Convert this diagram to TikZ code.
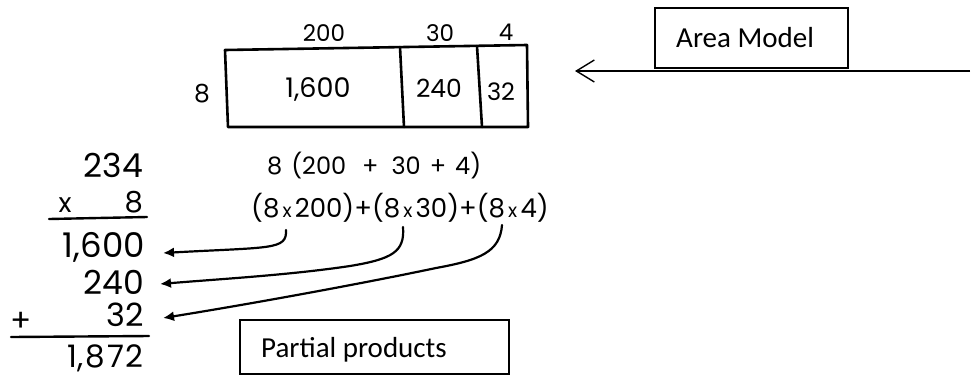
\documentclass[tikz,border=0pt]{standalone}
\usepackage{fontspec}
\setmainfont{Poppins}
\newfontfamily\handfont{Poppins}
\newfontfamily\calibfont{Carlito}
\usetikzlibrary{arrows.meta}
\newcommand{\smx}{{\fontsize{19}{19}\selectfont\,x\,}}
\tikzset{
  hand/.style={inner sep=0pt, font=\handfont\fontsize{#1}{#1}\selectfont},
  hand/.default=26,
  inkline/.style={line width=2.6pt, line cap=round, line join=round},
  inkarrow/.style={line width=2.2pt, line cap=round, -{Latex[length=11pt,width=10pt]}},
  calib/.style={font=\calibfont\fontsize{29}{29}\selectfont, inner sep=0pt},
}
\begin{document}
\begin{tikzpicture}[x=1pt,y=-1pt]
\useasboundingbox (0,0) rectangle (973,381);
% ---- area model rectangle ----
\coordinate (tl) at (225,50);
\coordinate (tr) at (527,45);
\coordinate (br) at (528,127);
\coordinate (bl) at (228,127);
\draw[inkline] (tl) -- (tr) -- (br) -- (bl) -- cycle;
\coordinate (d1t) at (400,47);
\coordinate (d1b) at (404,127);
\coordinate (d2t) at (477,46);
\coordinate (d2b) at (482,127);
\draw[inkline] (d1t) -- (d1b);
\draw[inkline] (d2t) -- (d2b);
\node[hand=23] (h200) at (324,33) {200};
\node[hand=23] (h30) at (440,33) {30};
\node[hand=23] (h4) at (506,32) {4};
\node[hand=25] (h8) at (202,94) {8};
\node[hand=27] (a1600) at (318,89) {1,600};
\node[hand=25] (a240) at (439,88) {240};
\node[hand=24] (a32) at (501,92) {32};
% ---- Area Model label ----
\node[draw, line width=1.6pt, minimum width=193pt, minimum height=60pt, inner sep=0pt] (amb) at (751.5,38) {};
\node[calib, anchor=west] (amt) at (676,38) {Area Model};
\coordinate (arrstart) at (970,71);
\coordinate (arrend) at (575,71);
\draw[line width=1.6pt, -{Straight Barb[length=18pt,width=22pt,line width=1.4pt]}] (arrstart) -- (arrend);
% ---- expressions ----
\node[hand=24, anchor=west] (e1) at (267,166) {8\hspace{9pt}(200\hspace{16pt}+\hspace{13pt}30\hspace{9pt}+\hspace{9pt}4)};
\node[hand=26, anchor=west] (e2) at (251,208) {(8\smx200)+(8\smx30)+(8\smx4)};
% ---- left column ----
\node[hand=33, anchor=east] (n234) at (143,165) {234};
\node[hand=27] (nx) at (65,205) {x};
\node[hand=29, anchor=east] (n8) at (143,202) {8};
\coordinate (l1a) at (49,219);
\coordinate (l1b) at (147,217);
\draw[inkline, line width=2.4pt] (l1a) -- (l1b);
\node[hand=34, anchor=east] (n1600) at (145,247) {1,600};
\node[hand=33, anchor=east] (n240) at (144,282) {240};
\node[hand=31] (nplus) at (21,322) {+};
\node[hand=32, anchor=east] (n32) at (144,315) {32};
\coordinate (l2a) at (11,337);
\coordinate (l2b) at (149,336);
\draw[inkline, line width=2.4pt] (l2a) -- (l2b);
\node[hand=31, anchor=east] (n1872) at (144,358) {1,\hspace{2pt}8\hspace{2pt}7\hspace{2pt}2};
% ---- arrows ----
\coordinate (t1) at (286,230);
\coordinate (t2) at (403,227);
\coordinate (t3) at (502,225);
\coordinate (p1) at (163,253);
\coordinate (p2) at (160,284);
\coordinate (p3) at (163,318);
\draw[inkarrow] (t1) .. controls (287,250) and (272,247) .. (p1);
\draw[inkarrow] (t2) .. controls (405,252) and (392,259) .. (350,266) .. controls (290,275) and (220,279) .. (p2);
\draw[inkarrow] (t3) .. controls (500,252) and (480,260) .. (436,268) .. controls (360,284) and (250,304) .. (p3);
% ---- Partial products label ----
\node[draw, line width=1.6pt, minimum width=269pt, minimum height=54pt, inner sep=0pt] (ppb) at (374.5,347) {};
\node[calib, anchor=west] (ppt) at (261,350) {Partial products};
\end{tikzpicture}
\end{document}
